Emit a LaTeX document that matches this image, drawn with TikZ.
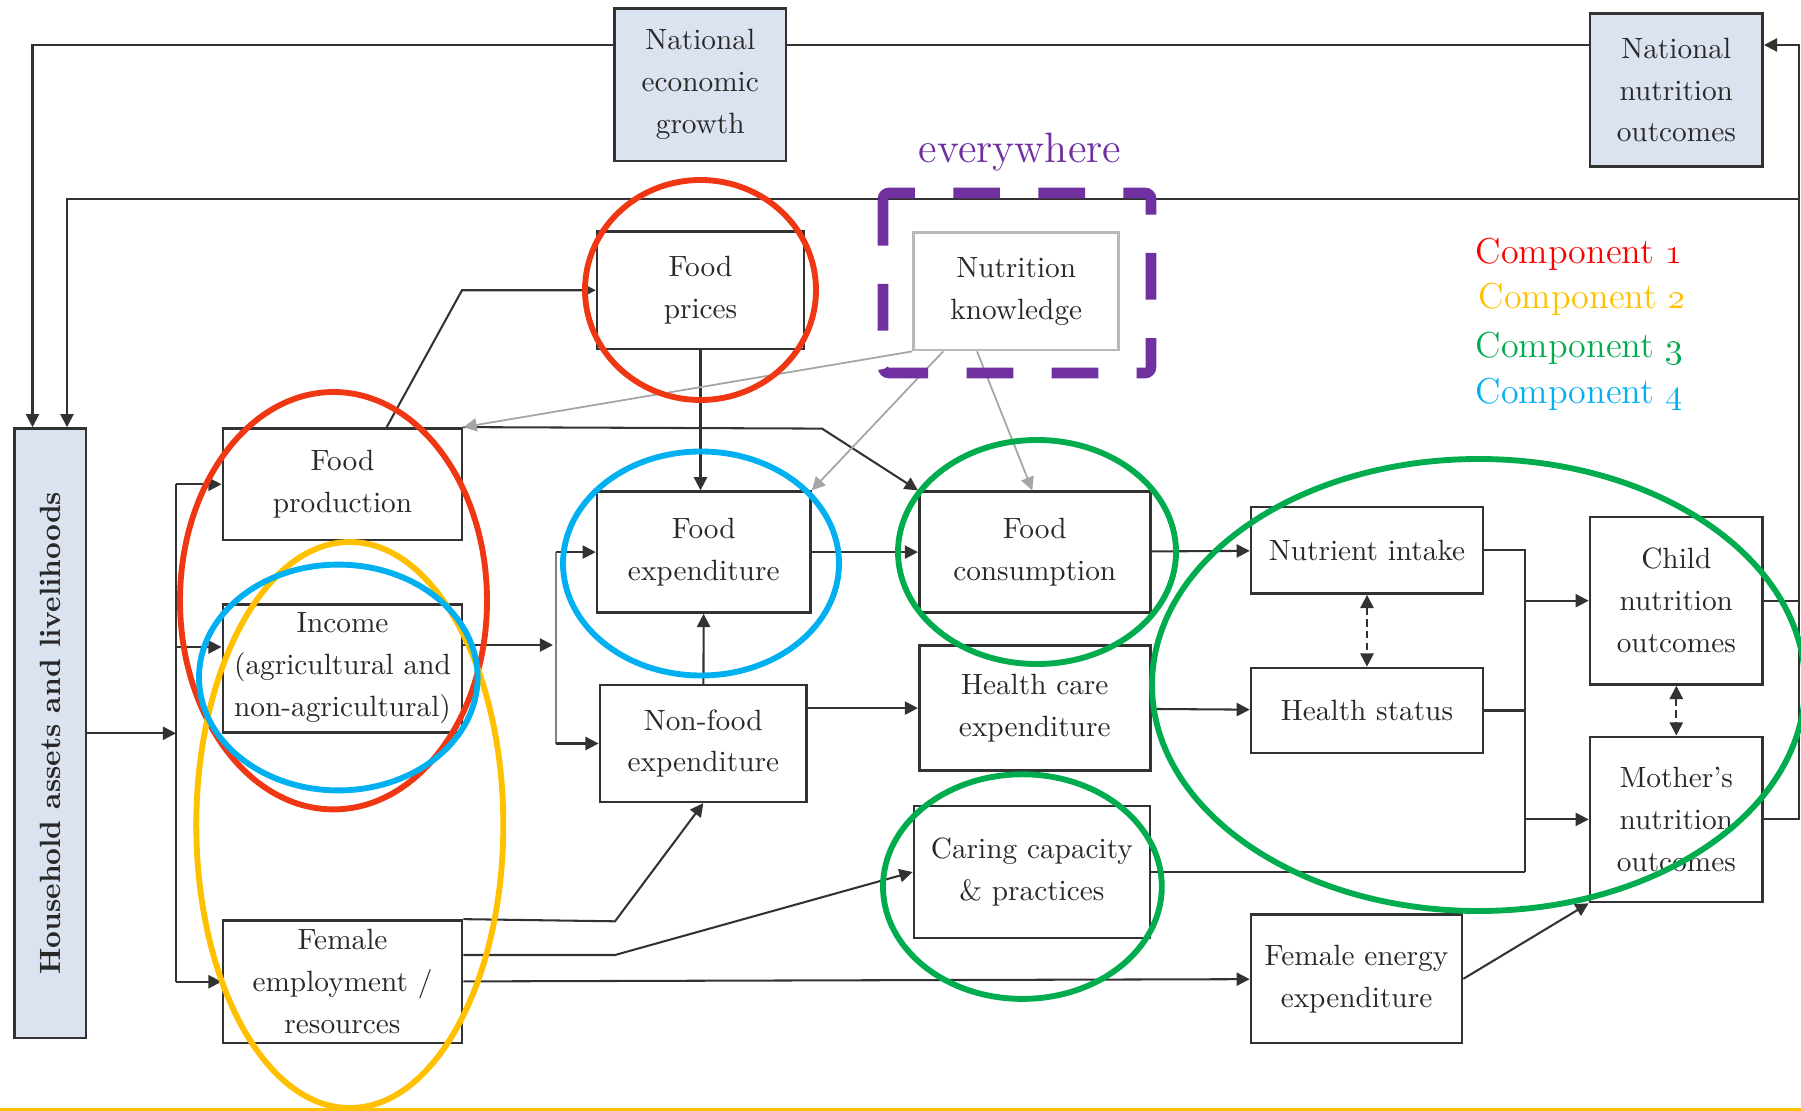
\documentclass[tikz,border=0pt]{standalone}
\usepackage{tikz}
\usetikzlibrary{arrows.meta}

\definecolor{boxfill}{RGB}{219,226,240}
\definecolor{boxline}{RGB}{50,50,50}
\definecolor{boxtext}{RGB}{40,40,40}
\definecolor{greyline}{RGB}{165,165,165}
\definecolor{knowline}{RGB}{185,185,185}
\definecolor{ringred}{RGB}{240,55,20}
\definecolor{ringyellow}{RGB}{255,192,0}
\definecolor{ringgreen}{RGB}{0,172,78}
\definecolor{ringblue}{RGB}{0,176,240}
\definecolor{comppurple}{RGB}{112,48,160}
\definecolor{compred}{RGB}{255,0,0}

\begin{document}
\begin{tikzpicture}[x=0.012cm, y=-0.012cm]
\useasboundingbox (0,0) rectangle (1801,1111);
\begin{scope}[every node/.style={rectangle,draw=boxline,line width=0.9pt,fill=white,text=boxtext,align=center,inner sep=0pt,font=\fontsize{10}{14.3}\selectfont}]
    \node (hh) at (50.25, 733.3) [fill=boxfill, minimum width=0.86cm, minimum height=7.31cm] {};
    \node (neg) at (700.25, 84.7) [fill=boxfill, minimum width=2.06cm, minimum height=1.83cm] {National\\economic\\growth};
    \node (nno) at (1676.3, 90) [fill=boxfill, minimum width=2.07cm, minimum height=1.84cm] {National\\nutrition\\outcomes};
    \node (prices) at (700.5, 290.25) [minimum width=2.48cm, minimum height=1.41cm] {Food\\prices};
    \node (know) at (1016.2, 291.3) [draw=knowline, minimum width=2.46cm, minimum height=1.41cm] {Nutrition\\knowledge};
    \node (prod) at (342.5, 484.3) [minimum width=2.87cm, minimum height=1.34cm] {Food\\production};
    \node (income) at (342.5, 668.5) [minimum width=2.87cm, minimum height=1.53cm] {Income\\(agricultural and\\non-agricultural)};
    \node (female) at (342.5, 981.75) [minimum width=2.87cm, minimum height=1.47cm] {Female\\employment /\\resources};
    \node (fexp) at (703.75, 552.1) [minimum width=2.56cm, minimum height=1.45cm] {Food\\expenditure};
    \node (nfexp) at (703.3, 743.5) [minimum width=2.48cm, minimum height=1.40cm] {Non-food\\expenditure};
    \node (fcons) at (1034.75, 552.1) [minimum width=2.77cm, minimum height=1.45cm] {Food\\consumption};
    \node (hexp) at (1034.75, 708.1) [minimum width=2.77cm, minimum height=1.50cm] {Health care\\expenditure};
    \node (caring) at (1031.9, 872) [minimum width=2.83cm, minimum height=1.58cm] {Caring capacity\\\& practices};
    \node (intake) at (1367, 550.2) [minimum width=2.78cm, minimum height=1.04cm] {Nutrient intake};
    \node (health) at (1367, 710.5) [minimum width=2.78cm, minimum height=1.02cm] {Health status};
    \node (child) at (1676.3, 600.7) [minimum width=2.07cm, minimum height=2.01cm] {Child\\nutrition\\outcomes};
    \node (mother) at (1676.3, 819.4) [minimum width=2.07cm, minimum height=1.98cm] {Mother’s\\nutrition\\outcomes};
    \node (energy) at (1356.5, 978.85) [minimum width=2.53cm, minimum height=1.54cm] {Female energy\\expenditure};
\end{scope}
\node (hhtext) at (hh) [rotate=90, text=boxtext, font=\bfseries\fontsize{10}{12}\selectfont] {Household assets and livelihoods};
\begin{scope}[>={Triangle[length=4.5pt,width=4.5pt]},
              black_edge/.style={draw=boxline,line width=0.7pt},
              grey_edge/.style={draw=greyline,line width=0.6pt},
              dash_edge/.style={draw=boxline,line width=0.7pt,dash pattern=on 2.5pt off 1.5pt}]
    \coordinate (topL) at (32.5, 45);
    \coordinate (midL) at (67, 199);
    \coordinate (rightT) at (1799, 45);
    \coordinate (rightB) at (1799, 819.4);
    \coordinate (busT) at (176, 484.3);
    \coordinate (busB) at (176, 981.75);
    \coordinate (busH) at (176, 733.3);
    \coordinate (busI) at (176, 647);
    \coordinate (incOut) at (553, 645);
    \coordinate (busMT) at (556, 552.1);
    \coordinate (busMB) at (556, 743.5);
    \coordinate (kinkP) at (462, 290.25);
    \coordinate (kinkC) at (822, 428.6);
    \coordinate (kinkF1) at (615, 921.3);
    \coordinate (kinkF2) at (615, 955);
    \coordinate (busR) at (1524.5, 872);
    % feedback loops
    \draw [->, black_edge] (neg.west |- topL) -- (topL) -- (topL |- hh.north);
    \draw [black_edge] (nno.west |- topL) -- (neg.east |- topL);
    \draw [->, black_edge] (mother.east) -- (rightB) -- (rightT) -- (nno.east |- rightT);
    \draw [black_edge] (child.east) -- (child.east -| rightB);
    \draw [->, black_edge] (rightT |- midL) -- (midL) -- (midL |- hh.north);
    % household
    \path [->] (hh.east) edge [black_edge] (busH);
    \draw [black_edge] (busT) -- (busB);
    \path [->] (busT) edge [black_edge] (prod.west);
    \path [->] (busI) edge [black_edge] (income.west |- busI);
    \path [->] (busB) edge [black_edge] (female.west);
    % income
    \path [->] (income.east |- incOut) edge [black_edge] (incOut);
    \draw [grey_edge, draw=gray] (busMT) -- (busMB);
    \path [->] (busMT) edge [black_edge] (fexp.west);
    \path [->] (busMB) edge [black_edge] (nfexp.west);
    % food
    \draw [->, black_edge] ([xshift=0.53cm]prod.north) -- (kinkP) -- (prices.west);
    \draw [->, black_edge] (prod.north east) -- (kinkC) -- (fcons.north west);
    \draw [->, black_edge] (prices.south) -- (prices.south |- fexp.north);
    \path [->] (nfexp) edge [black_edge] (fexp);
    \path [->] (fexp) edge [black_edge] (fcons);
    \draw [->, black_edge] (nfexp.east |- hexp.west) -- (hexp.west);
    \path [->] (fcons) edge [black_edge] (intake);
    \path [->] (hexp) edge [black_edge] (health);
    \path [<->] (intake) edge [dash_edge] (health);
    \path [<->] (child) edge [dash_edge] (mother);
    % knowledge
    \draw [->, grey_edge] (know.south west) -- (prod.north east);
    \draw [->, grey_edge] ([xshift=0.37cm]know.south west) -- (fexp.north east);
    \draw [->, grey_edge] ([xshift=-0.47cm]know.south) -- ([xshift=-0.03cm]fcons.north);
    % outcomes
    \draw [black_edge] (intake.east) -| (busR);
    \draw [black_edge] (health.east) -- (health.east -| busR);
    \draw [black_edge] (caring.east) -- (busR);
    \path [->] (busR |- child.west) edge [black_edge] (child.west);
    \path [->] (busR |- mother.west) edge [black_edge] (mother.west);
    % female
    \draw [->, black_edge] (female.north east) -- (kinkF1) -- (nfexp.south);
    \draw [->, black_edge] (female.east |- kinkF2) -- (kinkF2) -- (caring.west);
    \path [->] (female) edge [black_edge] (energy);
    \path [->] (energy.east) edge [black_edge] (mother.south west);
\end{scope}
\begin{scope}[ring/.style={line width=2pt}]
    \draw [ring, draw=ringred] (700.5, 290) ellipse [x radius=115.5, y radius=110];
    \draw [ring, draw=ringred] (333.5, 600.7) ellipse [x radius=153.5, y radius=208.7];
    \draw [ring, draw=ringyellow] (349.8, 825) ellipse [x radius=153.5, y radius=283];
    \draw [ring, draw=ringblue] (338.3, 677.5) ellipse [x radius=139.3, y radius=112.9];
    \draw [ring, draw=ringblue] (701, 563.5) ellipse [x radius=138, y radius=112];
    \draw [ring, draw=ringgreen] (1037, 552) ellipse [x radius=139, y radius=112];
    \draw [ring, draw=ringgreen] (1022.4, 886.6) ellipse [x radius=139.4, y radius=112.3];
    \draw [ring, draw=ringgreen] (1478.5, 685) ellipse [x radius=326.5, y radius=226];
    \draw [draw=comppurple, line width=3.6pt, dash pattern=on 0.56cm off 0.46cm, rounded corners=2pt] (883,193) rectangle (1151,373);
\end{scope}
\begin{scope}[every node/.style={inner sep=0pt, font=\fontsize{12.3}{15}\selectfont}]
    \node (evw) at (1020, 163) [anchor=base, text=comppurple, font=\fontsize{14.5}{17}\selectfont] {everywhere};
    \node (comp1) at (1475, 264) [anchor=base west, text=compred] {Component \oldstylenums{1}};
    \node (comp2) at (1478, 309) [anchor=base west, text=ringyellow] {Component \oldstylenums{2}};
    \node (comp3) at (1475, 358) [anchor=base west, text=ringgreen] {Component \oldstylenums{3}};
    \node (comp4) at (1475, 404) [anchor=base west, text=ringblue] {Component \oldstylenums{4}};
\end{scope}
\draw [draw=ringyellow, line width=1pt] (0,1109.5) -- (1801,1109.5);
\end{tikzpicture}
\end{document}
